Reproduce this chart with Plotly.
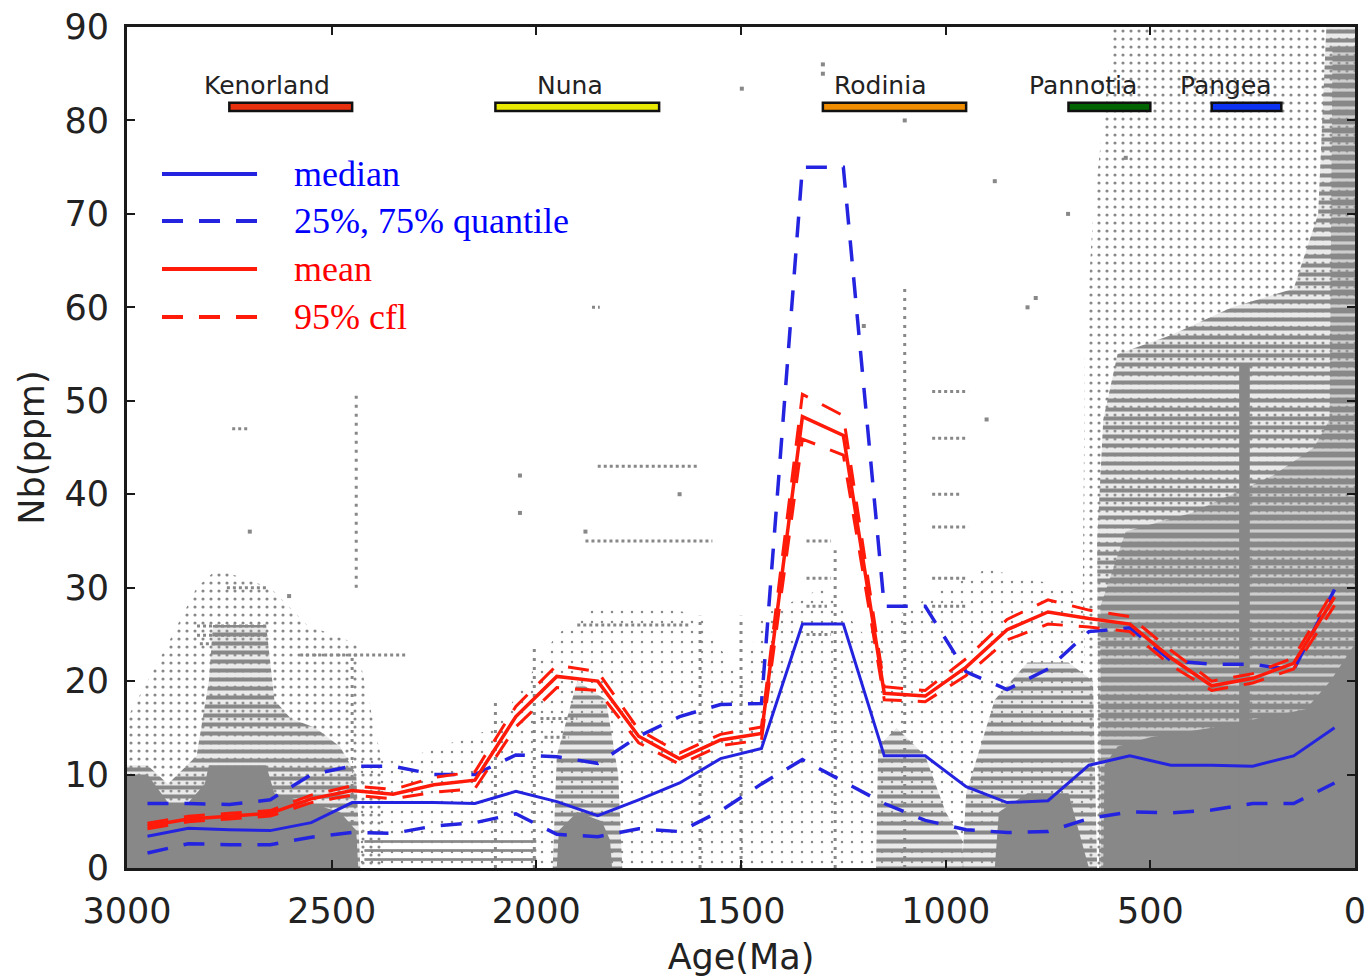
import plotly.graph_objects as go

# ---- binned statistics of Nb (ppm) versus age (Ma), 100 Ma bins ----
bin_age = [2950, 2850, 2750, 2650, 2550, 2450, 2350, 2250, 2150, 2050,
           1950, 1850, 1750, 1650, 1550, 1450, 1350, 1250, 1150, 1050,
           950, 850, 750, 650, 550, 450, 350, 250, 150, 50]
nb_median = [3.4, 4.25, 4.1, 4.0, 4.85, 7.0, 7.0, 7.0, 6.9, 8.2,
             7.1, 5.6, 7.3, 9.1, 11.7, 12.8, 26.1, 26.1, 12.0, 12.0,
             8.7, 7.0, 7.2, 11.0, 12.0, 11.0, 11.0, 10.9, 12.0, 15.0]
nb_q25 = [1.6, 2.6, 2.5, 2.5, 3.3, 3.8, 3.7, 4.5, 4.85, 5.8,
          3.6, 3.35, 4.2, 3.9, 6.1, 9.0, 11.6, 9.2, 6.9, 5.1,
          4.1, 3.8, 3.9, 5.3, 6.0, 5.9, 6.2, 6.9, 6.9, 9.1]
nb_q75 = [6.9, 6.9, 6.8, 7.3, 10.0, 10.9, 10.9, 10.0, 10.0, 12.1,
          11.9, 11.2, 14.1, 16.2, 17.5, 17.6, 75.0, 75.0, 28.0, 28.0,
          21.0, 19.1, 21.3, 25.3, 25.7, 22.2, 21.8, 21.8, 21.2, 29.8]
nb_mean = [4.5, 5.25, 5.55, 5.85, 7.4, 8.3, 7.9, 8.9, 9.4, 16.2,
           20.5, 20.0, 14.1, 11.7, 13.7, 14.4, 48.3, 46.3, 18.7, 18.4,
           21.5, 25.5, 27.4, 26.7, 26.1, 22.5, 19.5, 20.3, 21.9, 29.0]
nb_cfl_hi = [4.8, 5.55, 5.85, 6.15, 7.8, 8.8, 8.4, 9.7, 10.3, 17.3,
             21.7, 21.0, 14.8, 12.3, 14.3, 15.1, 50.7, 48.4, 19.4, 19.0,
             22.4, 26.6, 28.7, 27.6, 26.9, 23.3, 20.0, 20.8, 22.5, 29.9]
nb_cfl_lo = [4.2, 4.95, 5.25, 5.55, 7.0, 7.8, 7.4, 8.1, 8.5, 15.1,
             19.3, 19.0, 13.4, 11.1, 13.1, 13.7, 45.9, 44.2, 18.0, 17.8,
             20.6, 24.4, 26.1, 25.8, 25.3, 21.7, 19.0, 19.8, 21.3, 28.1]

# ---- supercontinent intervals ----
sc_names = ["Kenorland", "Nuna", "Rodinia", "Pannotia", "Pangea"]
sc_start = [2750, 2100, 1300, 700, 350]
sc_end = [2450, 1700, 950, 500, 180]
sc_label_age = [2658, 1918, 1160, 664, 315]
sc_colors = ["#e8300f", "#e8e800", "#f08c00", "#006400", "#0a32f0"]

# ---- outlines of the sample cloud (age, ppm), by point density ----
phan_sparse_age = [650, 665, 660, 640, 615, 590, 0, 0]
phan_sparse_ppm = [0, 30, 55, 70, 80, 90, 90, 0]
phan_mid_age = [625, 630, 615, 580, 450, 300, 150, 90, 70, 0, 0]
phan_mid_ppm = [0, 35, 48, 55, 57, 60, 62, 70, 90, 90, 0]
phan_dense_age = [620, 622, 560, 400, 300, 200, 100, 62, 55, 0, 0]
phan_dense_ppm = [0, 28, 36, 38, 40, 42, 45, 48, 88, 88, 0]
phan_core_age = [615, 612, 580, 500, 350, 120, 60, 0, 0]
phan_core_ppm = [0, 11, 13, 14, 15, 17, 20, 24, 0]
phan_column_age = [283, 283, 257, 257]
phan_column_ppm = [0, 54, 54, 0]

arch_sparse_age = [3000, 3000, 2900, 2830, 2780, 2650, 2560, 2440, 2380, 2380]
arch_sparse_ppm = [0, 16, 24, 30, 32, 30, 26, 24, 12, 0]
arch_mid_age = [3000, 3000, 2950, 2900, 2830, 2800, 2790, 2660, 2640, 2600, 2540, 2480, 2440, 2430]
arch_mid_ppm = [0, 11, 11, 9, 12, 20, 26, 26, 18, 16, 15, 13, 10, 0]
arch_core_age = [3000, 3000, 2950, 2900, 2850, 2810, 2800, 2660, 2640, 2560, 2480, 2440, 2435]
arch_core_ppm = [0, 10, 10, 7, 7, 9, 11, 11, 8, 7, 6, 4, 0]

mid_sparse_age = [2450, 2450, 2300, 2100, 1950, 1850, 1700, 1600, 1500, 1450, 1300, 1200, 1000, 900, 700, 650, 650]
mid_sparse_ppm = [0, 12, 12, 15, 25, 28, 28, 27, 20, 27, 30, 25, 30, 32, 30, 28, 0]
band_age = [2420, 2420, 2000, 2000]
band_ppm = [0.6, 3.3, 3.3, 0.6]
blob_mid_age = [1960, 1950, 1900, 1830, 1800, 1790]
blob_mid_ppm = [0, 12, 20, 18, 10, 0]
blob_core_age = [1950, 1945, 1900, 1840, 1820, 1815]
blob_core_ppm = [0, 4, 6, 5, 3, 0]
meso_age = [1170, 1165, 1120, 1050, 1000, 960, 955]
meso_ppm = [0, 13, 15, 12, 6, 3, 0]
neo_mid_age = [960, 950, 880, 800, 700, 640, 630]
neo_mid_ppm = [0, 8, 18, 22, 22, 20, 0]
neo_core_age = [880, 870, 800, 700, 650]
neo_core_ppm = [0, 6, 8, 8, 0]

# ---- individual rows of samples sharing a value (age from, age to, ppm) ----
row_from = [1850, 1880, 1900, 2577, 2822, 2829, 2829, 2756, 1033, 1033, 1033,
            1033, 1033, 1033, 1340, 1340, 1340, 1340, 1864, 2743, 1990, 1980]
row_to = [1605, 1570, 1625, 2316, 2668, 2658, 2658, 2658, 945, 945, 960,
          945, 950, 945, 1280, 1280, 1290, 1280, 1845, 2700, 1900, 1920]
row_ppm = [43, 35, 26, 22.8, 24.0, 25.9, 24.9, 30, 51, 46, 40,
           36.5, 31, 28, 35, 31, 28, 25, 60, 47, 16, 14]

# ---- columns of samples sharing an age (age, ppm from, ppm to) ----
col_age = [2450, 1500, 1270, 1100, 1600, 2100, 2005, 2440]
col_lo = [0, 0, 0, 0, 0, 0, 0, 30]
col_hi = [23, 27, 34, 62, 27, 18, 24, 51]

# ---- isolated samples ----
iso_age = [1498, 2040, 2040, 2604, 1300, 1300, 880, 701, 1100, 800, 780, 2700, 1880, 1650, 1200, 900, 560, 620]
iso_ppm = [83.4, 42, 38, 29.1, 86, 85, 73.5, 70, 80, 60, 61, 36, 36, 40, 58, 48, 76, 84]

GRAY = "#888888"
BLUE = "#2424e0"
RED = "#ff1a0a"

fig = go.Figure()

PATTERNS = {
    "sparse": dict(shape=".", fgcolor=GRAY, bgcolor="rgba(255,255,255,0)", size=8, solidity=0.12),
    "faint": dict(shape=".", fgcolor=GRAY, bgcolor="rgba(255,255,255,0)", size=10, solidity=0.05),
    "light": dict(shape="-", fgcolor=GRAY, bgcolor="rgba(255,255,255,0)", size=9, solidity=0.3),
    "mid": dict(shape="-", fgcolor=GRAY, bgcolor="rgba(170,170,170,0.25)", size=9, solidity=0.45),
    "dense": dict(shape="-", fgcolor=GRAY, bgcolor="rgba(150,150,150,0.35)", size=9, solidity=0.65),
}


def cloud(ages, ppm, style):
    closed_x = list(ages) + [ages[0]]
    closed_y = list(ppm) + [ppm[0]]
    kw = dict(x=closed_x, y=closed_y, mode="none", fill="toself",
              hoverinfo="skip", showlegend=False)
    if style == "core":
        kw["fillcolor"] = GRAY
    else:
        kw["fillcolor"] = "rgba(255,255,255,0)"
        kw["fillpattern"] = dict(PATTERNS[style], fillmode="replace")
    fig.add_trace(go.Scatter(**kw))


cloud(mid_sparse_age, mid_sparse_ppm, "faint")
cloud(phan_sparse_age, phan_sparse_ppm, "sparse")
cloud(arch_sparse_age, arch_sparse_ppm, "sparse")
cloud(phan_mid_age, phan_mid_ppm, "mid")
cloud(phan_dense_age, phan_dense_ppm, "dense")
cloud(arch_mid_age, arch_mid_ppm, "mid")
cloud(band_age, band_ppm, "light")
cloud(blob_mid_age, blob_mid_ppm, "mid")
cloud(meso_age, meso_ppm, "mid")
cloud(neo_mid_age, neo_mid_ppm, "mid")
cloud(phan_core_age, phan_core_ppm, "core")
cloud(phan_column_age, phan_column_ppm, "core")
cloud(arch_core_age, arch_core_ppm, "core")
cloud(blob_core_age, blob_core_ppm, "core")
cloud(neo_core_age, neo_core_ppm, "core")

# horizontal rows
rx, ry = [], []
for a0, a1, v in zip(row_from, row_to, row_ppm):
    rx += [a0, a1, None]
    ry += [v, v, None]
fig.add_trace(go.Scatter(x=rx, y=ry, mode="lines", hoverinfo="skip", showlegend=False,
                         line=dict(color=GRAY, width=3, dash="3px,3px")))
# vertical columns
cx, cy = [], []
for a, lo, hi in zip(col_age, col_lo, col_hi):
    cx += [a, a, None]
    cy += [lo, hi, None]
fig.add_trace(go.Scatter(x=cx, y=cy, mode="lines", hoverinfo="skip", showlegend=False,
                         line=dict(color=GRAY, width=3, dash="3px,6px")))
fig.add_trace(go.Scatter(x=iso_age, y=iso_ppm, mode="markers", hoverinfo="skip", showlegend=False,
                         marker=dict(color=GRAY, size=4, symbol="square")))

# statistics
DASH = "21px,16px"
fig.add_trace(go.Scatter(x=bin_age, y=nb_q25, mode="lines", showlegend=False,
                         line=dict(color=BLUE, width=3.5, dash=DASH)))
fig.add_trace(go.Scatter(x=bin_age, y=nb_q75, mode="lines", showlegend=False,
                         line=dict(color=BLUE, width=3.5, dash=DASH)))
fig.add_trace(go.Scatter(x=bin_age, y=nb_median, mode="lines", showlegend=False,
                         line=dict(color=BLUE, width=3)))
fig.add_trace(go.Scatter(x=bin_age, y=nb_cfl_hi, mode="lines", showlegend=False,
                         line=dict(color=RED, width=3, dash=DASH)))
fig.add_trace(go.Scatter(x=bin_age, y=nb_cfl_lo, mode="lines", showlegend=False,
                         line=dict(color=RED, width=3, dash=DASH)))
fig.add_trace(go.Scatter(x=bin_age, y=nb_mean, mode="lines", showlegend=False,
                         line=dict(color=RED, width=3.5)))

shapes = []
annotations = []
# supercontinent bars and names
for name, a0, a1, la, col in zip(sc_names, sc_start, sc_end, sc_label_age, sc_colors):
    shapes.append(dict(type="rect", xref="x", yref="y", x0=a0, x1=a1, y0=81.0, y1=81.9,
                       fillcolor=col, line=dict(color="#111111", width=2.5), layer="above"))
    annotations.append(dict(x=la, y=83.7, xref="x", yref="y", text=name, showarrow=False,
                            xanchor="center", yanchor="middle",
                            font=dict(family="DejaVu Sans", size=25, color="#222222")))

# legend drawn as line samples with labels
legend_items = [("median", BLUE, "solid", 0.8252),
                ("25%, 75% quantile", BLUE, DASH, 0.7693),
                ("mean", RED, "solid", 0.7122),
                ("95% cfl", RED, DASH, 0.6552)]
text_colors = {BLUE: "#0000ff", RED: "#ff0000"}
for label, col, dash, yy in legend_items:
    shapes.append(dict(type="line", xref="paper", yref="paper", x0=0.0285, x1=0.1059,
                       y0=yy, y1=yy, line=dict(color=col, width=4, dash=dash)))
    annotations.append(dict(x=0.1344, y=yy, xref="paper", yref="paper", text=label,
                            showarrow=False, xanchor="left", yanchor="middle",
                            font=dict(family="Liberation Serif", size=36, color=text_colors[col])))

axis_font = dict(family="DejaVu Sans", size=35, color="#222222")
fig.update_layout(
    width=1368, height=977,
    margin=dict(l=127, r=13, t=27, b=109),
    paper_bgcolor="white", plot_bgcolor="white",
    shapes=shapes, annotations=annotations,
    xaxis=dict(range=[3000, 0], tickvals=[3000, 2500, 2000, 1500, 1000, 500, 0],
               ticktext=["3000", "2500", "2000", "1500", "1000", "500", "0"],
               automargin=False,
               showgrid=False, zeroline=False, showline=True, linecolor="#1a1a1a",
               linewidth=3, mirror="ticks", ticks="inside", ticklen=8, tickwidth=1.5,
               tickcolor="#1a1a1a", tickfont=axis_font, ticklabelstandoff=10,
               title=dict(text="Age(Ma)", font=axis_font, standoff=18)),
    yaxis=dict(range=[0, 90], tickvals=list(range(0, 91, 10)),
               automargin=False,
               showgrid=False, zeroline=False, showline=True, linecolor="#1a1a1a",
               linewidth=3, mirror="ticks", ticks="inside", ticklen=8, tickwidth=1.5,
               tickcolor="#1a1a1a", tickfont=axis_font, ticklabelstandoff=8,
               title=dict(text="Nb(ppm)", font=axis_font, standoff=10)),
)

fig.write_html("out.html")
